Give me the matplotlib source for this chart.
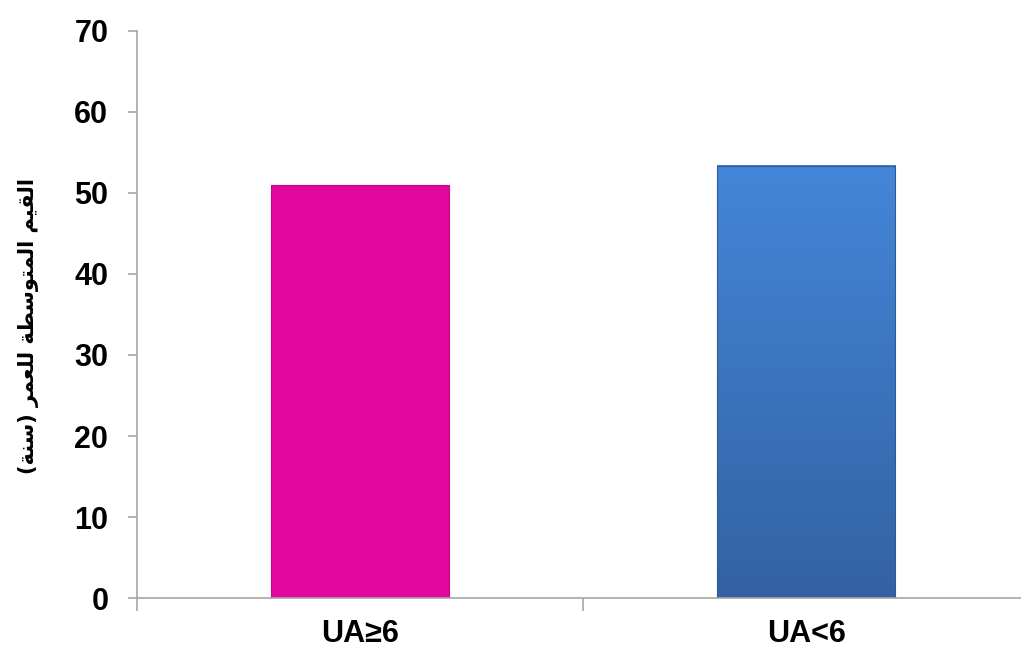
import matplotlib
matplotlib.use('Agg')
import matplotlib.pyplot as plt
from matplotlib.colors import LinearSegmentedColormap
import numpy as np

categories = ['UA\u22656', 'UA<6']
mean_age = [50.9, 53.3]
yticks = [0, 10, 20, 30, 40, 50, 60, 70]

# y label "القيم المتوسطة للعمر (سنة)" in shaped presentation forms, visual order
ylabel = ('(\uFE94\uFEE8\uFEB3) '
          '\uFEAE\uFEE4\uFECC\uFEE0\uFEDF '
          '\uFE94\uFEC4\uFEB3\uFEEE\uFE98\uFEE4\uFEDF\uFE8D '
          '\uFEE2\uFEF4\uFED8\uFEDF\uFE8D')

fig = plt.figure(figsize=(10.21, 6.51), dpi=100)
ax = fig.add_axes([0.134, 0.081, 0.874, 0.872])

bars = ax.bar(range(len(categories)), mean_age, width=0.40, zorder=2)
bars[0].set_facecolor('#E2079E')
bars[0].set_edgecolor('#C8068C')
bars[0].set_linewidth(0.8)

# gradient fill for the second bar
b = bars[1]
b.set_facecolor('none')
b.set_edgecolor('#2E5A96')
b.set_linewidth(0.8)
cmap = LinearSegmentedColormap.from_list('blu', ['#3362A3', '#4486D8'])
grad = np.linspace(0, 1, 256).reshape(-1, 1)
ax.imshow(grad, cmap=cmap, origin='lower', aspect='auto', zorder=1.9,
          extent=(b.get_x(), b.get_x() + b.get_width(), 0, b.get_height()))

ax.set_xlim(-0.5, 1.5)
ax.set_ylim(0, 70)
ax.set_yticks(yticks)
ax.set_xticks(range(len(categories)))
ax.set_xticklabels(categories)
ax.set_xticks([-0.5, 0.5], minor=True)

for s in ['top', 'right']:
    ax.spines[s].set_visible(False)
for s in ['left', 'bottom']:
    ax.spines[s].set_color('#A6A6A6')
    ax.spines[s].set_linewidth(1.2)

ax.tick_params(axis='y', length=6.5, width=1.2, color='#A6A6A6', pad=14)
ax.tick_params(axis='x', which='major', length=0, pad=15)
ax.tick_params(axis='x', which='minor', length=9, width=1.2, color='#A6A6A6')

for lab in ax.get_yticklabels() + ax.get_xticklabels():
    lab.set_fontfamily(['Liberation Sans', 'DejaVu Sans'])
    lab.set_fontweight('bold')
    lab.set_fontsize(22)

ax.set_ylabel(ylabel, family=['DejaVu Sans'], fontweight='bold', fontsize=15)
ax.yaxis.set_label_coords(-0.11, 0.48)

fig.savefig('out.png', dpi=100)
